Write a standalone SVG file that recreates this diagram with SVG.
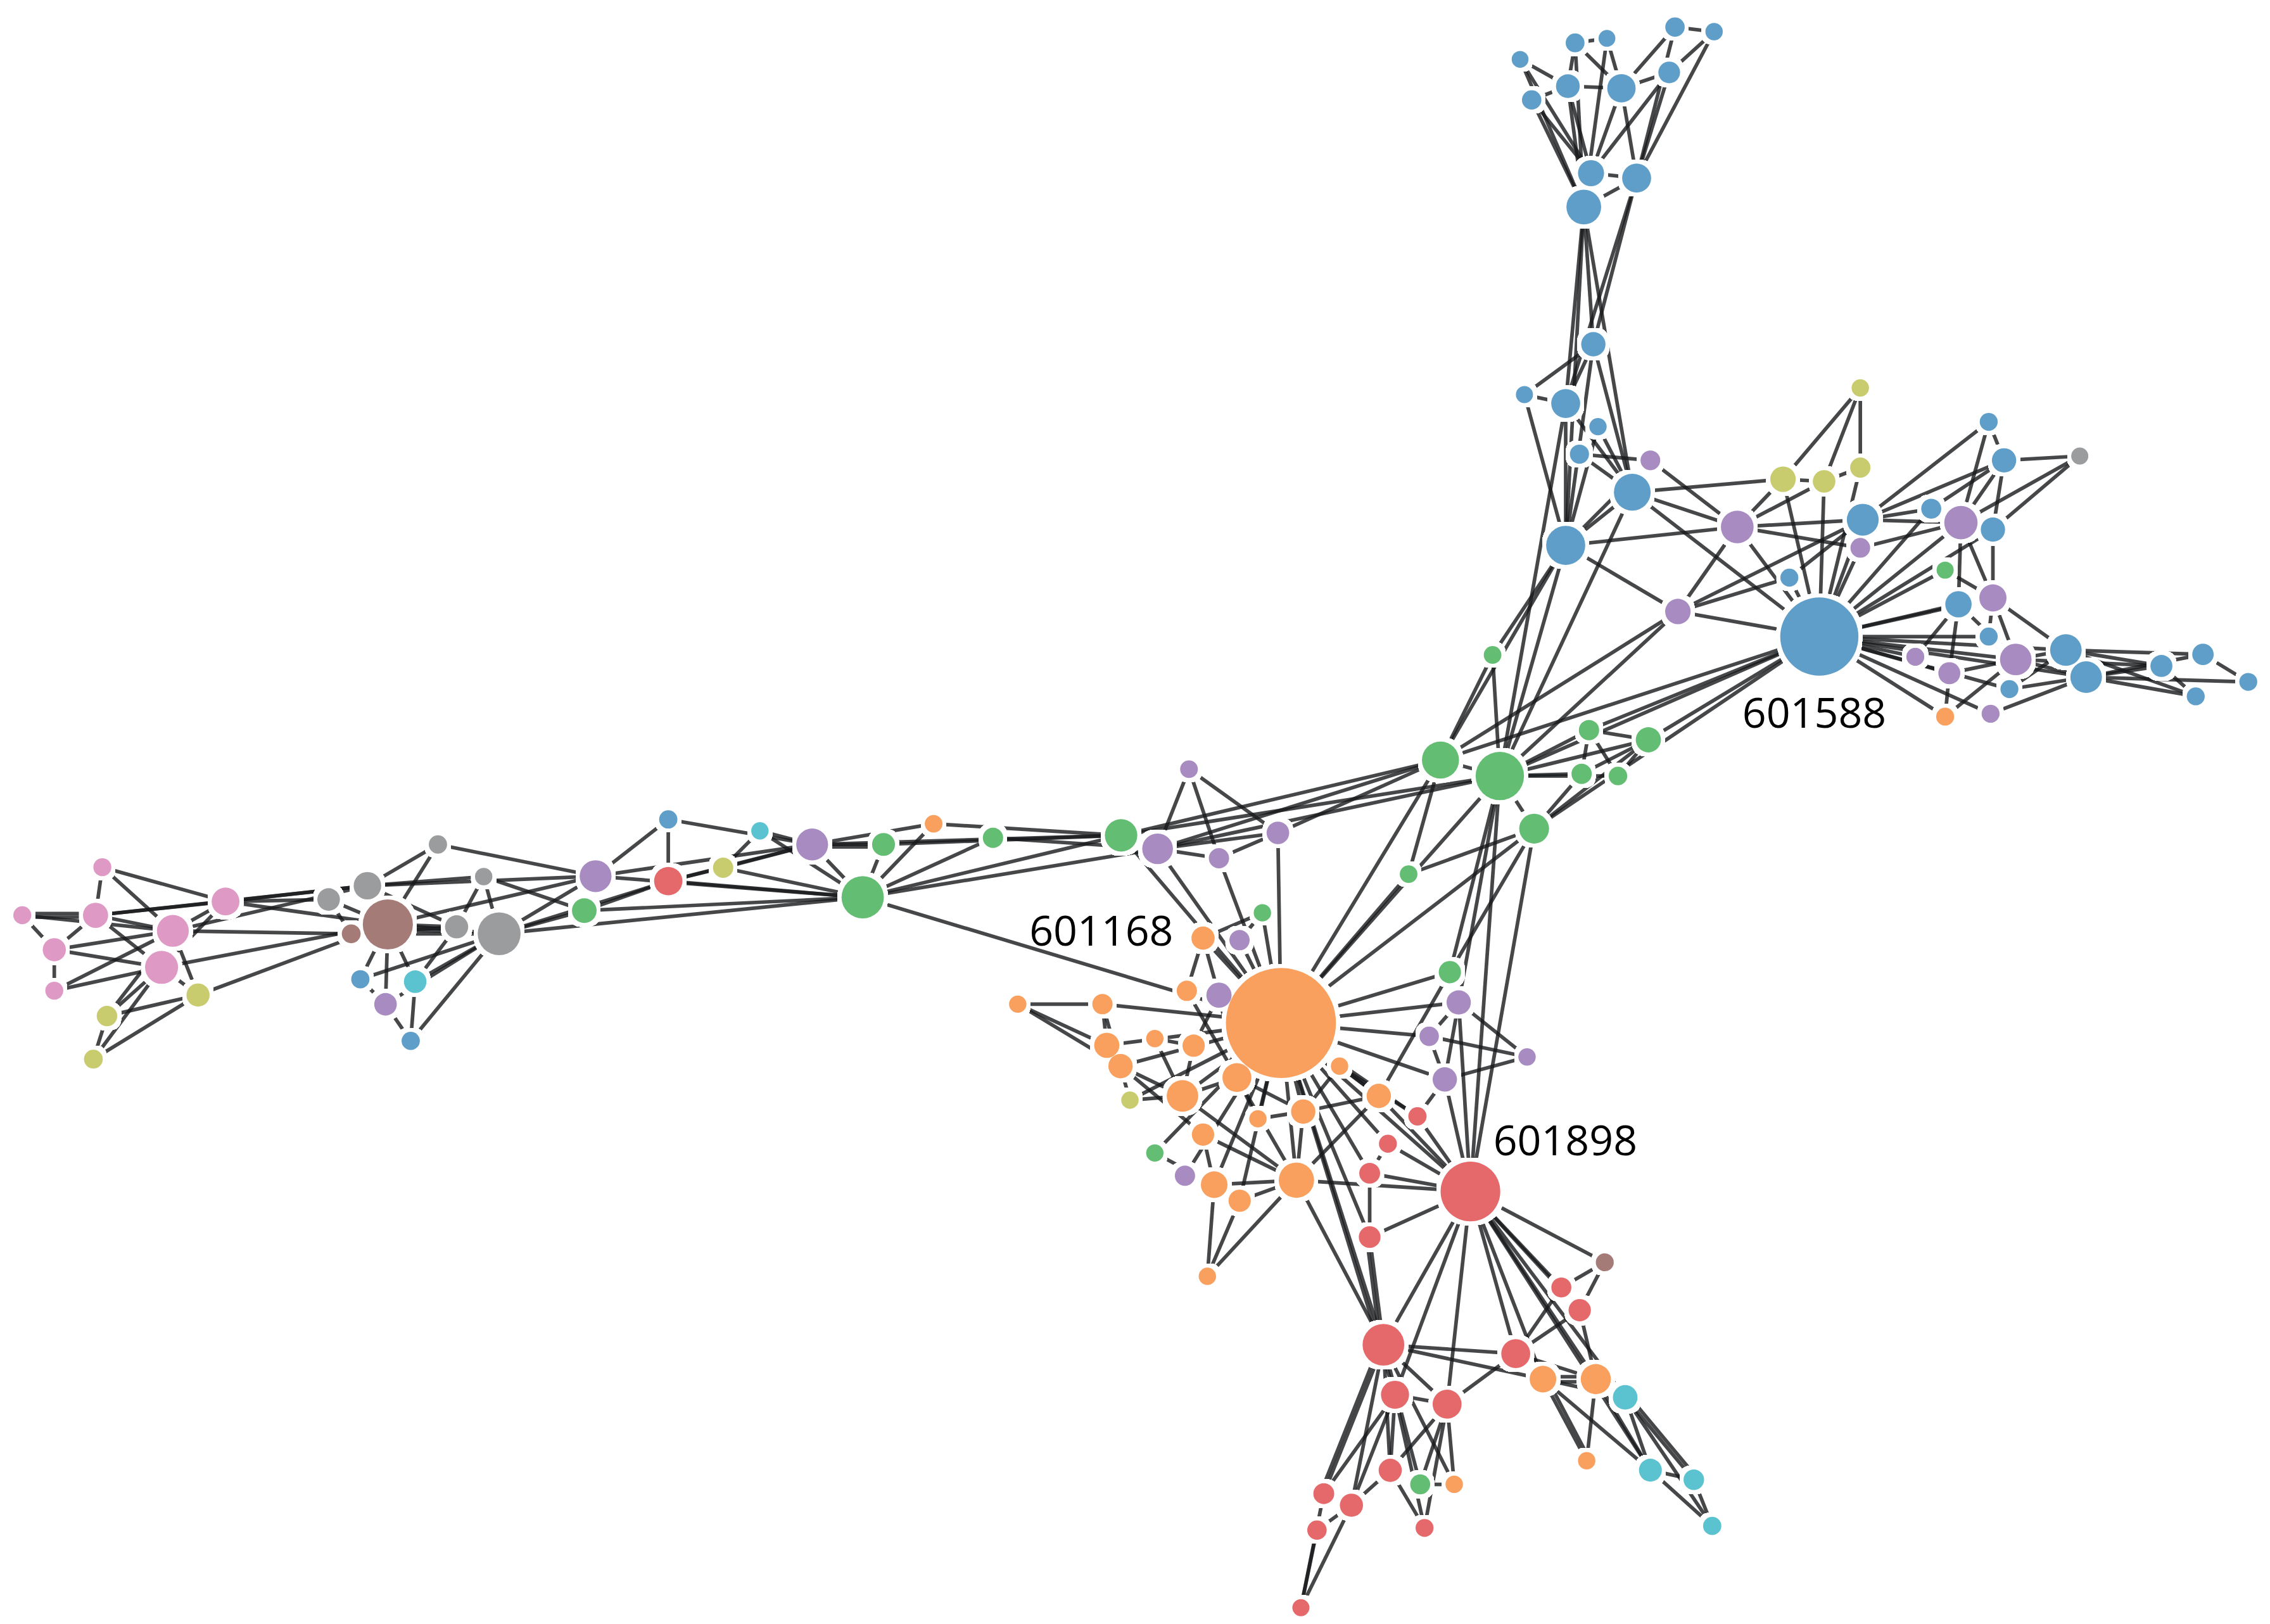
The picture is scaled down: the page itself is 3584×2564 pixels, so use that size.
<svg xmlns="http://www.w3.org/2000/svg" xmlns:xlink="http://www.w3.org/1999/xlink" width="3584" height="2564" viewBox="0 0 3584 2564">
<style>
#edges line{stroke:#16191c;stroke-opacity:.8;stroke-width:2.5}
#nodes circle{fill-opacity:.9}
.b{fill:#4c93c2}.o{fill:#f8964d}.g{fill:#52b663}.r{fill:#e2585a}.p{fill:#9d7eba}.br{fill:#9b6d68}.pk{fill:#da8fbf}.gy{fill:#8f9192}.ol{fill:#c2c75f}.c{fill:#49bdcb}
.lbl{font-family:"Open Sans","Liberation Sans",sans-serif;font-size:29px;fill:#000}
</style>
<defs>
<filter id="halo" x="-5%" y="-5%" width="110%" height="110%">
<feMorphology in="SourceAlpha" operator="dilate" radius="2.5"/>
<feComponentTransfer><feFuncA type="linear" slope="30"/></feComponentTransfer>
<feColorMatrix type="matrix" values="0 0 0 0 1 0 0 0 0 1 0 0 0 0 1 0 0 0 1 0"/>
</filter>
</defs>
<rect width="3584" height="2564" fill="#fff"/>
<g transform="scale(2.285714)">
<g id="edges">
<line x1="1050" y1="41" x2="1083" y2="59.5"/><line x1="1058" y1="69" x2="1083" y2="59.5"/><line x1="1050" y1="41" x2="1094" y2="143"/><line x1="1050" y1="41" x2="1099" y2="119.6"/><line x1="1058" y1="69" x2="1094" y2="143"/><line x1="1058" y1="69" x2="1099" y2="119.6"/><line x1="1088" y1="29.6" x2="1083" y2="59.5"/><line x1="1088" y1="29.6" x2="1110" y2="26.5"/><line x1="1088" y1="29.6" x2="1120" y2="61"/><line x1="1110" y1="26.5" x2="1120" y2="61"/><line x1="1110" y1="26.5" x2="1094" y2="143"/><line x1="1088" y1="29.6" x2="1094" y2="143"/><line x1="1083" y1="59.5" x2="1120" y2="61"/><line x1="1120" y1="61" x2="1153" y2="50"/><line x1="1157" y1="18.7" x2="1184" y2="21.9"/><line x1="1157" y1="18.7" x2="1120" y2="61"/><line x1="1184" y1="21.9" x2="1153" y2="50"/><line x1="1157" y1="18.7" x2="1130.5" y2="123"/><line x1="1184" y1="21.9" x2="1130.5" y2="123"/><line x1="1153" y1="50" x2="1130.5" y2="123"/><line x1="1153" y1="50" x2="1099" y2="119.6"/><line x1="1120" y1="61" x2="1130.5" y2="123"/><line x1="1120" y1="61" x2="1099" y2="119.6"/><line x1="1083" y1="59.5" x2="1094" y2="143"/><line x1="1083" y1="59.5" x2="1099" y2="119.6"/><line x1="1099" y1="119.6" x2="1130.5" y2="123"/><line x1="1130.5" y1="123" x2="1094" y2="143"/>
<line x1="1094" y1="143" x2="1081.5" y2="278.7"/><line x1="1094" y1="143" x2="1081.5" y2="376.7"/><line x1="1094" y1="143" x2="1127.5" y2="340"/><line x1="1094" y1="143" x2="1100.6" y2="237.8"/><line x1="1130.5" y1="123" x2="1100.6" y2="237.8"/><line x1="1130.5" y1="123" x2="1081.5" y2="278.7"/>
<line x1="1053" y1="272.6" x2="1081.5" y2="278.7"/><line x1="1053" y1="272.6" x2="1100.6" y2="237.8"/><line x1="1053" y1="272.6" x2="1081.5" y2="376.7"/><line x1="1081.5" y1="278.7" x2="1100.6" y2="237.8"/><line x1="1081.5" y1="278.7" x2="1081.5" y2="376.7"/><line x1="1081.5" y1="278.7" x2="1127.5" y2="340"/><line x1="1081.5" y1="376.7" x2="1100.6" y2="237.8"/><line x1="1081.5" y1="376.7" x2="1103.8" y2="294.7"/><line x1="1100.6" y1="237.8" x2="1127.5" y2="340"/><line x1="1091" y1="313.7" x2="1140" y2="318"/><line x1="1091" y1="313.7" x2="1127.5" y2="340"/><line x1="1103.8" y1="294.7" x2="1127.5" y2="340"/><line x1="1081.5" y1="376.7" x2="1140" y2="318"/><line x1="1081.5" y1="376.7" x2="1127.5" y2="340"/><line x1="1081.5" y1="376.7" x2="1200" y2="364"/><line x1="1081.5" y1="376.7" x2="1159" y2="422.4"/><line x1="1127.5" y1="340" x2="1231.6" y2="331"/><line x1="1127.5" y1="340" x2="1200" y2="364"/><line x1="1127.5" y1="340" x2="1256.7" y2="439.7"/><line x1="1140" y1="318" x2="1200" y2="364"/><line x1="1200" y1="364" x2="1231.6" y2="331"/><line x1="1200" y1="364" x2="1260" y2="332.5"/><line x1="1200" y1="364" x2="1286.7" y2="359"/><line x1="1200" y1="364" x2="1285" y2="378.4"/><line x1="1200" y1="364" x2="1159" y2="422.4"/><line x1="1200" y1="364" x2="1256.7" y2="439.7"/><line x1="1231.6" y1="331" x2="1260" y2="332.5"/><line x1="1260" y1="332.5" x2="1285" y2="323"/><line x1="1285" y1="268" x2="1231.6" y2="331"/><line x1="1285" y1="268" x2="1260" y2="332.5"/><line x1="1285" y1="268" x2="1285" y2="323"/><line x1="1231.6" y1="331" x2="1256.7" y2="439.7"/><line x1="1260" y1="332.5" x2="1256.7" y2="439.7"/><line x1="1285" y1="323" x2="1256.7" y2="439.7"/><line x1="1286.7" y1="359" x2="1285" y2="378.4"/><line x1="1286.7" y1="359" x2="1159" y2="422.4"/><line x1="1286.7" y1="359" x2="1236" y2="399"/><line x1="1159" y1="422.4" x2="1236" y2="399"/><line x1="1159" y1="422.4" x2="1256.7" y2="439.7"/><line x1="1236" y1="399" x2="1256.7" y2="439.7"/><line x1="1285" y1="378.4" x2="1256.7" y2="439.7"/><line x1="1286.7" y1="359" x2="1256.7" y2="439.7"/>
<line x1="1127.5" y1="340" x2="1036" y2="536"/><line x1="1081.5" y1="376.7" x2="995" y2="525"/><line x1="1081.5" y1="376.7" x2="1036" y2="536"/><line x1="1081.5" y1="278.7" x2="1036" y2="536"/><line x1="1031" y1="452.4" x2="1081.5" y2="376.7"/><line x1="1159" y1="422.4" x2="995" y2="525"/><line x1="1159" y1="422.4" x2="1036" y2="536"/>
<line x1="1256.7" y1="439.7" x2="995" y2="525"/><line x1="1256.7" y1="439.7" x2="1036" y2="536"/><line x1="1256.7" y1="439.7" x2="1097.6" y2="504.3"/><line x1="1256.7" y1="439.7" x2="1138.6" y2="511"/><line x1="1256.7" y1="439.7" x2="1059.7" y2="572.4"/>
<line x1="1373.7" y1="291.4" x2="1384.3" y2="318"/><line x1="1373.7" y1="291.4" x2="1286.7" y2="359"/><line x1="1373.7" y1="291.4" x2="1354.5" y2="361"/><line x1="1384.3" y1="318" x2="1436.6" y2="315"/><line x1="1384.3" y1="318" x2="1286.7" y2="359"/><line x1="1384.3" y1="318" x2="1354.5" y2="361"/><line x1="1384.3" y1="318" x2="1334" y2="351.4"/><line x1="1384.3" y1="318" x2="1376.6" y2="365.8"/><line x1="1436.6" y1="315" x2="1354.5" y2="361"/><line x1="1436.6" y1="315" x2="1376.6" y2="365.8"/><line x1="1286.7" y1="359" x2="1334" y2="351.4"/><line x1="1286.7" y1="359" x2="1354.5" y2="361"/><line x1="1334" y1="351.4" x2="1376.6" y2="365.8"/><line x1="1285" y1="378.4" x2="1354.5" y2="361"/><line x1="1256.7" y1="439.7" x2="1334" y2="351.4"/><line x1="1256.7" y1="439.7" x2="1354.5" y2="361"/><line x1="1256.7" y1="439.7" x2="1376.6" y2="365.8"/><line x1="1256.7" y1="439.7" x2="1343.6" y2="393.8"/><line x1="1354.5" y1="361" x2="1352.8" y2="417.4"/><line x1="1376.6" y1="413" x2="1354.5" y2="361"/><line x1="1376.6" y1="413" x2="1376.6" y2="365.8"/><line x1="1376.6" y1="413" x2="1343.6" y2="393.8"/><line x1="1352.8" y1="417.4" x2="1376.6" y2="413"/><line x1="1352.8" y1="417.4" x2="1323" y2="453.7"/><line x1="1352.8" y1="417.4" x2="1346.5" y2="465"/><line x1="1352.8" y1="417.4" x2="1392.4" y2="455.5"/><line x1="1376.6" y1="413" x2="1373.7" y2="439.7"/><line x1="1376.6" y1="413" x2="1392.4" y2="455.5"/><line x1="1376.6" y1="413" x2="1427" y2="449"/><line x1="1392.4" y1="455.5" x2="1346.5" y2="465"/><line x1="1392.4" y1="455.5" x2="1441" y2="467.7"/><line x1="1392.4" y1="455.5" x2="1427" y2="449"/><line x1="1392.4" y1="455.5" x2="1388" y2="476"/><line x1="1392.4" y1="455.5" x2="1343.6" y2="495"/><line x1="1392.4" y1="455.5" x2="1493" y2="460"/><line x1="1388" y1="476" x2="1427" y2="449"/><line x1="1388" y1="476" x2="1441" y2="467.7"/><line x1="1427" y1="449" x2="1441" y2="467.7"/><line x1="1427" y1="449" x2="1493" y2="460"/><line x1="1427" y1="449" x2="1521.7" y2="452"/><line x1="1427" y1="449" x2="1516.7" y2="481"/><line x1="1441" y1="467.7" x2="1493" y2="460"/><line x1="1441" y1="467.7" x2="1521.7" y2="452"/><line x1="1441" y1="467.7" x2="1516.7" y2="481"/><line x1="1441" y1="467.7" x2="1553" y2="471"/><line x1="1493" y1="460" x2="1516.7" y2="481"/><line x1="1521.7" y1="452" x2="1553" y2="471"/><line x1="1375" y1="493" x2="1441" y2="467.7"/><line x1="1346.5" y1="465" x2="1343.6" y2="495"/>
<line x1="1256.7" y1="439.7" x2="1352.8" y2="417.4"/><line x1="1256.7" y1="439.7" x2="1376.6" y2="413"/><line x1="1256.7" y1="439.7" x2="1373.7" y2="439.7"/><line x1="1256.7" y1="439.7" x2="1323" y2="453.7"/><line x1="1256.7" y1="439.7" x2="1346.5" y2="465"/><line x1="1256.7" y1="439.7" x2="1392.4" y2="455.5"/><line x1="1256.7" y1="439.7" x2="1388" y2="476"/><line x1="1256.7" y1="439.7" x2="1427" y2="449"/><line x1="1256.7" y1="439.7" x2="1441" y2="467.7"/><line x1="1256.7" y1="439.7" x2="1343.6" y2="495"/><line x1="1256.7" y1="439.7" x2="1375" y2="493"/>
<line x1="995" y1="525" x2="1036" y2="536"/><line x1="774.4" y1="577" x2="995" y2="525"/><line x1="774.4" y1="577" x2="1036" y2="536"/><line x1="799.6" y1="586.3" x2="995" y2="525"/><line x1="799.6" y1="586.3" x2="1036" y2="536"/><line x1="882.7" y1="575.3" x2="995" y2="525"/><line x1="1036" y1="536" x2="1097.6" y2="504.3"/><line x1="1036" y1="536" x2="1138.6" y2="511"/><line x1="1036" y1="536" x2="1092.5" y2="534.5"/><line x1="1036" y1="536" x2="1117.6" y2="536"/><line x1="1036" y1="536" x2="1059.7" y2="572.4"/><line x1="1097.6" y1="504.3" x2="1138.6" y2="511"/><line x1="1097.6" y1="504.3" x2="1092.5" y2="534.5"/><line x1="1097.6" y1="504.3" x2="1117.6" y2="536"/><line x1="1138.6" y1="511" x2="1092.5" y2="534.5"/><line x1="1138.6" y1="511" x2="1117.6" y2="536"/><line x1="1138.6" y1="511" x2="1059.7" y2="572.4"/><line x1="1092.5" y1="534.5" x2="1059.7" y2="572.4"/><line x1="1059.7" y1="572.4" x2="973" y2="603.8"/><line x1="973" y1="603.8" x2="995" y2="525"/><line x1="1036" y1="536" x2="1031" y2="452.4"/><line x1="995" y1="525" x2="1031" y2="452.4"/><line x1="1036" y1="536" x2="1001.5" y2="671.5"/><line x1="1036" y1="536" x2="1015.7" y2="823"/><line x1="1036" y1="536" x2="1007.6" y2="692.4"/><line x1="1059.7" y1="572.4" x2="1001.5" y2="671.5"/><line x1="1059.7" y1="572.4" x2="1015.7" y2="823"/><line x1="1001.5" y1="671.5" x2="884.8" y2="706.6"/><line x1="1001.5" y1="671.5" x2="952.4" y2="757"/><line x1="995" y1="525" x2="884.8" y2="706.6"/><line x1="1036" y1="536" x2="884.8" y2="706.6"/><line x1="1059.7" y1="572.4" x2="884.8" y2="706.6"/><line x1="973" y1="603.8" x2="884.8" y2="706.6"/>
<line x1="821.3" y1="531.3" x2="799.6" y2="586.3"/><line x1="821.3" y1="531.3" x2="842" y2="592.8"/><line x1="821.3" y1="531.3" x2="882.7" y2="575.3"/><line x1="799.6" y1="586.3" x2="842" y2="592.8"/><line x1="799.6" y1="586.3" x2="882.7" y2="575.3"/><line x1="842" y1="592.8" x2="882.7" y2="575.3"/><line x1="882.7" y1="575.3" x2="884.8" y2="706.6"/><line x1="842" y1="592.8" x2="884.8" y2="706.6"/><line x1="799.6" y1="586.3" x2="884.8" y2="706.6"/><line x1="774.4" y1="577" x2="884.8" y2="706.6"/><line x1="595.9" y1="619.8" x2="799.6" y2="586.3"/><line x1="685.9" y1="578.7" x2="799.6" y2="586.3"/><line x1="685.9" y1="578.7" x2="595.9" y2="619.8"/><line x1="644.9" y1="569" x2="595.9" y2="619.8"/><line x1="610.3" y1="583.3" x2="595.9" y2="619.8"/><line x1="644.9" y1="569" x2="774.4" y2="577"/><line x1="610.3" y1="583.3" x2="774.4" y2="577"/><line x1="561" y1="583.3" x2="774.4" y2="577"/><line x1="561" y1="583.3" x2="610.3" y2="583.3"/><line x1="561" y1="585" x2="610.3" y2="585"/><line x1="561" y1="583.3" x2="644.9" y2="569"/><line x1="561" y1="583.3" x2="595.9" y2="619.8"/><line x1="595.9" y1="619.8" x2="774.4" y2="577"/><line x1="524.9" y1="573.9" x2="595.9" y2="619.8"/><line x1="524.9" y1="573.9" x2="561" y2="583.3"/><line x1="499.5" y1="599.4" x2="524.9" y2="573.9"/><line x1="499.5" y1="599.4" x2="561" y2="583.3"/><line x1="499.5" y1="599.4" x2="595.9" y2="619.8"/><line x1="461.6" y1="566" x2="561" y2="583.3"/><line x1="461.6" y1="566" x2="461.6" y2="608.6"/><line x1="461.6" y1="566" x2="411.4" y2="605.2"/><line x1="461.6" y1="608.6" x2="561" y2="583.3"/><line x1="461.6" y1="608.6" x2="499.5" y2="599.4"/><line x1="461.6" y1="608.6" x2="595.9" y2="619.8"/><line x1="411.4" y1="605.2" x2="595.9" y2="619.8"/><line x1="411.4" y1="605.2" x2="561" y2="583.3"/><line x1="411.4" y1="605.2" x2="403.6" y2="629"/><line x1="403.6" y1="629" x2="461.6" y2="608.6"/><line x1="403.6" y1="629" x2="595.9" y2="619.8"/><line x1="595.9" y1="619.8" x2="884.8" y2="706.6"/>
<line x1="302.5" y1="583.3" x2="411.4" y2="605.2"/><line x1="253.8" y1="611.8" x2="411.4" y2="605.2"/><line x1="267.9" y1="638.5" x2="411.4" y2="605.2"/><line x1="344.8" y1="645" x2="411.4" y2="605.2"/><line x1="344.8" y1="645" x2="403.6" y2="629"/><line x1="344.8" y1="645" x2="461.6" y2="608.6"/><line x1="344.8" y1="645" x2="595.9" y2="619.8"/><line x1="334.1" y1="605.5" x2="403.6" y2="629"/><line x1="302.5" y1="583.3" x2="253.8" y2="611.8"/><line x1="302.5" y1="583.3" x2="267.9" y2="638.5"/><line x1="253.8" y1="611.8" x2="334.1" y2="605.5"/><line x1="253.8" y1="611.8" x2="267.9" y2="638.5"/><line x1="253.8" y1="611.8" x2="315.4" y2="640.2"/><line x1="227" y1="621.3" x2="267.9" y2="638.5"/><line x1="227" y1="621.3" x2="242.6" y2="645"/><line x1="267.9" y1="638.5" x2="315.4" y2="640.2"/><line x1="267.9" y1="642" x2="315.4" y2="643.5"/><line x1="267.9" y1="638.5" x2="344.8" y2="645"/><line x1="267.9" y1="638.5" x2="248.9" y2="676.4"/><line x1="267.9" y1="638.5" x2="286.8" y2="678.1"/><line x1="267.9" y1="638.5" x2="266.3" y2="693.7"/><line x1="248.9" y1="676.4" x2="266.3" y2="693.7"/><line x1="248.9" y1="676.4" x2="344.8" y2="645"/><line x1="266.3" y1="693.7" x2="283.7" y2="719"/><line x1="286.8" y1="678.1" x2="283.7" y2="719"/><line x1="286.8" y1="678.1" x2="344.8" y2="645"/><line x1="266.3" y1="693.7" x2="344.8" y2="645"/><line x1="283.7" y1="719" x2="344.8" y2="645"/><line x1="286.8" y1="678.1" x2="315.4" y2="640.2"/><line x1="334.1" y1="605.5" x2="315.4" y2="640.2"/><line x1="334.1" y1="605.5" x2="344.8" y2="645"/><line x1="242.6" y1="645" x2="344.8" y2="645"/><line x1="242.6" y1="645" x2="315.4" y2="640.2"/>
<line x1="70.7" y1="599" x2="155.8" y2="622.7"/><line x1="70.7" y1="599" x2="66" y2="632.2"/><line x1="70.7" y1="599" x2="119.4" y2="643"/><line x1="15.4" y1="631" x2="66" y2="631"/><line x1="15.4" y1="633.5" x2="66" y2="633.5"/><line x1="15.4" y1="632.2" x2="119.4" y2="643"/><line x1="15.4" y1="632.2" x2="37.5" y2="656"/><line x1="66" y1="632.2" x2="155.8" y2="622.7"/><line x1="66" y1="632.2" x2="119.4" y2="643"/><line x1="66" y1="632.2" x2="37.5" y2="656"/><line x1="66" y1="632.2" x2="111.6" y2="668.2"/><line x1="37.5" y1="656" x2="119.4" y2="643"/><line x1="37.5" y1="656" x2="111.6" y2="668.2"/><line x1="37.5" y1="656" x2="37.5" y2="684.3"/><line x1="37.5" y1="684.3" x2="119.4" y2="643"/><line x1="37.5" y1="684.3" x2="111.6" y2="668.2"/><line x1="155.8" y1="622.7" x2="119.4" y2="643"/><line x1="155.8" y1="622.7" x2="111.6" y2="668.2"/><line x1="155.8" y1="622.7" x2="253.8" y2="611.8"/><line x1="66" y1="632.2" x2="253.8" y2="611.8"/><line x1="155.8" y1="622.7" x2="227" y2="621.3"/><line x1="155.8" y1="622.7" x2="267.9" y2="638.5"/><line x1="119.4" y1="643" x2="253.8" y2="611.8"/><line x1="119.4" y1="643" x2="242.6" y2="645"/><line x1="111.6" y1="668.2" x2="267.9" y2="638.5"/><line x1="111.6" y1="668.2" x2="136.8" y2="687.3"/><line x1="119.4" y1="643" x2="136.8" y2="687.3"/><line x1="111.6" y1="668.2" x2="73.9" y2="701.8"/><line x1="111.6" y1="668.2" x2="64.5" y2="731.6"/><line x1="119.4" y1="643" x2="73.9" y2="701.8"/><line x1="136.8" y1="687.3" x2="73.9" y2="701.8"/><line x1="136.8" y1="687.3" x2="64.5" y2="731.6"/><line x1="73.9" y1="701.8" x2="64.5" y2="731.6"/><line x1="136.8" y1="687.3" x2="267.9" y2="638.5"/>
<line x1="703" y1="693.6" x2="761.5" y2="693.6"/><line x1="703" y1="693.6" x2="764.5" y2="722"/><line x1="703" y1="693.6" x2="774" y2="736.4"/><line x1="761.5" y1="693.6" x2="884.8" y2="706.6"/><line x1="761.5" y1="693.6" x2="780.5" y2="759.9"/><line x1="761.5" y1="693.6" x2="764.5" y2="722"/><line x1="764.5" y1="722" x2="884.8" y2="706.6"/><line x1="797.7" y1="717.4" x2="824.5" y2="722.3"/><line x1="774" y1="736.4" x2="884.8" y2="706.6"/><line x1="831" y1="648" x2="819.8" y2="684.4"/><line x1="831" y1="648" x2="842" y2="687.4"/><line x1="831" y1="648" x2="884.8" y2="706.6"/><line x1="831" y1="648" x2="872" y2="630.5"/><line x1="856.2" y1="649.4" x2="884.8" y2="706.6"/><line x1="872" y1="630.5" x2="884.8" y2="706.6"/><line x1="856.2" y1="649.4" x2="872" y2="630.5"/><line x1="819.8" y1="684.4" x2="854.4" y2="744.3"/><line x1="842" y1="687.4" x2="824.5" y2="722.3"/><line x1="842" y1="687.4" x2="854.4" y2="744.3"/><line x1="842" y1="687.4" x2="884.8" y2="706.6"/><line x1="797.7" y1="717.4" x2="816.8" y2="757"/><line x1="824.5" y1="722.3" x2="816.8" y2="757"/><line x1="774" y1="736.4" x2="816.8" y2="757"/><line x1="774" y1="736.4" x2="831" y2="783.7"/><line x1="780.5" y1="759.9" x2="884.8" y2="706.6"/><line x1="780.5" y1="759.9" x2="816.8" y2="757"/><line x1="816.8" y1="757" x2="854.4" y2="744.3"/><line x1="816.8" y1="757" x2="884.8" y2="706.6"/><line x1="797.7" y1="796.4" x2="884.8" y2="706.6"/><line x1="818.5" y1="812.1" x2="884.8" y2="706.6"/><line x1="838.7" y1="818.3" x2="884.8" y2="706.6"/><line x1="856.3" y1="829.4" x2="884.8" y2="706.6"/><line x1="838.7" y1="818.3" x2="895.5" y2="815.2"/><line x1="856.3" y1="829.4" x2="895.5" y2="815.2"/><line x1="831" y1="783.7" x2="838.7" y2="818.3"/><line x1="797.7" y1="796.4" x2="838.7" y2="818.3"/><line x1="831" y1="783.7" x2="895.5" y2="815.2"/><line x1="816.8" y1="757" x2="895.5" y2="815.2"/><line x1="854.4" y1="744.3" x2="895.5" y2="815.2"/><line x1="884.8" y1="706.6" x2="895.5" y2="815.2"/><line x1="900.2" y1="767.8" x2="895.5" y2="815.2"/><line x1="868.9" y1="772.8" x2="900.2" y2="767.8"/><line x1="854.4" y1="744.3" x2="900.2" y2="767.8"/><line x1="854.4" y1="744.3" x2="868.9" y2="772.8"/><line x1="884.8" y1="706.6" x2="868.9" y2="772.8"/><line x1="884.8" y1="706.6" x2="900.2" y2="767.8"/><line x1="925.3" y1="736.4" x2="900.2" y2="767.8"/><line x1="925.3" y1="736.4" x2="952.4" y2="757"/><line x1="925.3" y1="736.4" x2="979.1" y2="771.1"/><line x1="838.7" y1="818.3" x2="834" y2="881.6"/><line x1="856.3" y1="829.4" x2="834" y2="881.6"/><line x1="895.5" y1="815.2" x2="834" y2="881.6"/><line x1="895.5" y1="815.2" x2="952.4" y2="757"/><line x1="895.5" y1="815.2" x2="1015.7" y2="823"/><line x1="895.5" y1="815.2" x2="955.6" y2="928.9"/><line x1="884.8" y1="706.6" x2="1007.6" y2="692.4"/><line x1="884.8" y1="706.6" x2="987.2" y2="715.8"/><line x1="884.8" y1="706.6" x2="998" y2="745.6"/><line x1="884.8" y1="706.6" x2="952.4" y2="757"/><line x1="884.8" y1="706.6" x2="979.1" y2="771.1"/><line x1="884.8" y1="706.6" x2="958.7" y2="790"/><line x1="884.8" y1="706.6" x2="946.1" y2="810.4"/><line x1="884.8" y1="706.6" x2="946.1" y2="854.5"/><line x1="884.8" y1="706.6" x2="955.6" y2="928.9"/><line x1="884.8" y1="706.6" x2="963.6" y2="963.4"/><line x1="884.8" y1="706.6" x2="1015.7" y2="823"/><line x1="884.8" y1="706.6" x2="925.3" y2="736.4"/>
<line x1="1007.6" y1="692.4" x2="987.2" y2="715.8"/><line x1="1007.6" y1="692.4" x2="1054.8" y2="730.1"/><line x1="1007.6" y1="692.4" x2="998" y2="745.6"/><line x1="1007.6" y1="692.4" x2="1015.7" y2="823"/><line x1="987.2" y1="715.8" x2="1054.8" y2="730.1"/><line x1="987.2" y1="715.8" x2="998" y2="745.6"/><line x1="1054.8" y1="730.1" x2="998" y2="745.6"/><line x1="998" y1="745.6" x2="979.1" y2="771.1"/><line x1="998" y1="745.6" x2="1015.7" y2="823"/><line x1="952.4" y1="757" x2="1015.7" y2="823"/><line x1="979.1" y1="771.1" x2="1015.7" y2="823"/><line x1="958.7" y1="790" x2="1015.7" y2="823"/><line x1="958.7" y1="790" x2="946.1" y2="810.4"/><line x1="946.1" y1="810.4" x2="1015.7" y2="823"/><line x1="946.1" y1="810.4" x2="946.1" y2="854.5"/><line x1="946.1" y1="854.5" x2="1015.7" y2="823"/><line x1="946.1" y1="854.5" x2="955.6" y2="928.9"/><line x1="944" y1="854.5" x2="953.5" y2="928.9"/><line x1="900.2" y1="767.8" x2="952.4" y2="757"/>
<line x1="1015.7" y1="823" x2="1108.5" y2="871.9"/><line x1="1015.7" y1="823" x2="955.6" y2="928.9"/><line x1="1015.7" y1="823" x2="963.6" y2="963.4"/><line x1="1015.7" y1="823" x2="999.6" y2="969.9"/><line x1="1015.7" y1="823" x2="1047" y2="935"/><line x1="1015.7" y1="823" x2="1065.8" y2="952.6"/><line x1="1015.7" y1="823" x2="1102.3" y2="952.6"/><line x1="1015.7" y1="823" x2="1078.5" y2="889.3"/><line x1="1015.7" y1="823" x2="1091.2" y2="905"/><line x1="1015.7" y1="823" x2="1122.6" y2="965.2"/><line x1="1015.7" y1="823" x2="1140" y2="1015.5"/>
<line x1="1108.5" y1="871.9" x2="1078.5" y2="889.3"/><line x1="1108.5" y1="871.9" x2="1091.2" y2="905"/><line x1="1078.5" y1="889.3" x2="1091.2" y2="905"/><line x1="1047" y1="935" x2="1078.5" y2="889.3"/><line x1="1047" y1="935" x2="1091.2" y2="905"/><line x1="1047" y1="935" x2="1102.3" y2="952.6"/><line x1="1047" y1="935" x2="1065.8" y2="952.6"/><line x1="955.6" y1="928.9" x2="1047" y2="935"/><line x1="955.6" y1="928.9" x2="1065.8" y2="952.6"/><line x1="955.6" y1="928.9" x2="999.6" y2="969.9"/><line x1="955.6" y1="928.9" x2="914.4" y2="1031.7"/><line x1="953" y1="928.9" x2="912" y2="1031.7"/><line x1="955.6" y1="928.9" x2="933.5" y2="1039.7"/><line x1="955.6" y1="928.9" x2="960.3" y2="1015.6"/><line x1="955.6" y1="928.9" x2="981" y2="1025.3"/><line x1="955.6" y1="928.9" x2="1004.5" y2="1025.3"/><line x1="963.6" y1="963.4" x2="999.6" y2="969.9"/><line x1="963.6" y1="963.4" x2="914.4" y2="1031.7"/><line x1="963.6" y1="963.4" x2="933.5" y2="1039.7"/><line x1="963.6" y1="963.4" x2="960.3" y2="1015.6"/><line x1="963.6" y1="963.4" x2="984" y2="1055.4"/><line x1="999.6" y1="969.9" x2="1047" y2="935"/><line x1="999.6" y1="969.9" x2="960.3" y2="1015.6"/><line x1="999.6" y1="969.9" x2="981" y2="1025.3"/><line x1="999.6" y1="969.9" x2="984" y2="1055.4"/><line x1="999.6" y1="969.9" x2="1004.5" y2="1025.3"/><line x1="1091.2" y1="905" x2="1102.3" y2="952.6"/><line x1="1065.8" y1="951" x2="1102.3" y2="951"/><line x1="1065.8" y1="954.5" x2="1102.3" y2="954.5"/><line x1="1065.8" y1="952.6" x2="1122.6" y2="965.2"/><line x1="1065.8" y1="952.6" x2="1096" y2="1009"/><line x1="1068" y1="951" x2="1098" y2="1008"/><line x1="1065.8" y1="952.6" x2="1140" y2="1015.5"/><line x1="1102.3" y1="952.6" x2="1096" y2="1009"/><line x1="1102.3" y1="952.6" x2="1140" y2="1015.5"/><line x1="1102.3" y1="952.6" x2="1122.6" y2="965.2"/><line x1="1122.6" y1="965.2" x2="1140" y2="1015.5"/><line x1="1122.6" y1="965.2" x2="1170" y2="1022.1"/><line x1="1124.5" y1="963.5" x2="1172" y2="1020.5"/><line x1="1122.6" y1="965.2" x2="1182.7" y2="1054"/><line x1="1140" y1="1015.5" x2="1170" y2="1022.1"/><line x1="1140" y1="1015.5" x2="1182.7" y2="1054"/><line x1="1170" y1="1022.1" x2="1182.7" y2="1054"/><line x1="960.3" y1="1015.6" x2="933.5" y2="1039.7"/><line x1="960.3" y1="1015.6" x2="984" y2="1055.4"/><line x1="981" y1="1025.3" x2="1004.5" y2="1025.3"/><line x1="914.4" y1="1031.7" x2="933.5" y2="1039.7"/><line x1="914.4" y1="1031.7" x2="898.6" y2="1110.5"/><line x1="933.5" y1="1039.7" x2="909.7" y2="1056.9"/><line x1="933.5" y1="1039.7" x2="898.6" y2="1110.5"/><line x1="909.7" y1="1056.9" x2="898.6" y2="1110.5"/>
</g>
<use href="#nodes" xlink:href="#nodes" filter="url(#halo)"/>
<g id="nodes">
<g id="t1" class="b"><circle cx="1050" cy="41" r="5.8"/></g>
<g id="t2" class="b"><circle cx="1088" cy="29.6" r="6.5"/></g>
<g id="t3" class="b"><circle cx="1110" cy="26.5" r="5.8"/></g>
<g id="t4" class="b"><circle cx="1157" cy="18.7" r="6.7"/></g>
<g id="t5" class="b"><circle cx="1184" cy="21.9" r="6"/></g>
<g id="t6" class="b"><circle cx="1058" cy="69" r="6.7"/></g>
<g id="t7" class="b"><circle cx="1083" cy="59.5" r="8.2"/></g>
<g id="t8" class="b"><circle cx="1120" cy="61" r="9.8"/></g>
<g id="t9" class="b"><circle cx="1153" cy="50" r="7.5"/></g>
<g id="t10" class="b"><circle cx="1099" cy="119.6" r="9"/></g>
<g id="t11" class="b"><circle cx="1130.5" cy="123" r="10"/></g>
<g id="t12" class="b"><circle cx="1094" cy="143" r="12"/></g>
<g id="m1" class="b"><circle cx="1100.6" cy="237.8" r="8.4"/></g>
<g id="m2" class="b"><circle cx="1053" cy="272.6" r="5.9"/></g>
<g id="m3" class="b"><circle cx="1081.5" cy="278.7" r="10"/></g>
<g id="m4" class="b"><circle cx="1103.8" cy="294.7" r="6"/></g>
<g id="m5" class="b"><circle cx="1091" cy="313.7" r="6.6"/></g>
<g id="m6" class="p"><circle cx="1140" cy="318" r="6.8"/></g>
<g id="m7" class="b"><circle cx="1127.5" cy="340" r="12.7"/></g>
<g id="m8" class="b"><circle cx="1081.5" cy="376.7" r="13.5"/></g>
<g id="m9" class="p"><circle cx="1159" cy="422.4" r="8.8"/></g>
<g id="m10" class="p"><circle cx="1200" cy="364" r="11.3"/></g>
<g id="m11" class="ol"><circle cx="1231.6" cy="331" r="8.8"/></g>
<g id="m12" class="ol"><circle cx="1260" cy="332.5" r="7.8"/></g>
<g id="m13" class="ol"><circle cx="1285" cy="268" r="6"/></g>
<g id="m14" class="ol"><circle cx="1285" cy="323" r="7"/></g>
<g id="m15" class="b"><circle cx="1286.7" cy="359" r="11"/></g>
<g id="m16" class="p"><circle cx="1285" cy="378.4" r="6.8"/></g>
<g id="m17" class="b"><circle cx="1236" cy="399" r="6.2"/></g>
<g id="n601588" class="b"><circle cx="1256.7" cy="439.7" r="27"/></g>
<g id="r1" class="b"><circle cx="1373.7" cy="291.4" r="6.2"/></g>
<g id="r2" class="b"><circle cx="1384.3" cy="318" r="8.4"/></g>
<g id="r3" class="gy"><circle cx="1436.6" cy="315" r="5.9"/></g>
<g id="r4" class="b"><circle cx="1334" cy="351.4" r="6.9"/></g>
<g id="r5" class="p"><circle cx="1354.5" cy="361" r="11.5"/></g>
<g id="r6" class="b"><circle cx="1376.6" cy="365.8" r="8.4"/></g>
<g id="r7" class="g"><circle cx="1343.6" cy="393.8" r="5.9"/></g>
<g id="r8" class="b"><circle cx="1352.8" cy="417.4" r="9.1"/></g>
<g id="r9" class="p"><circle cx="1376.6" cy="413" r="9.4"/></g>
<g id="r10" class="b"><circle cx="1373.7" cy="439.7" r="6.2"/></g>
<g id="r11" class="p"><circle cx="1323" cy="453.7" r="6.2"/></g>
<g id="r12" class="p"><circle cx="1346.5" cy="465" r="7.6"/></g>
<g id="r13" class="p"><circle cx="1392.4" cy="455.5" r="10.9"/></g>
<g id="r14" class="b"><circle cx="1388" cy="476" r="6.2"/></g>
<g id="r15" class="b"><circle cx="1427" cy="449" r="10.9"/></g>
<g id="r16" class="b"><circle cx="1441" cy="467.7" r="10.9"/></g>
<g id="r17" class="b"><circle cx="1493" cy="460" r="7.6"/></g>
<g id="r18" class="b"><circle cx="1521.7" cy="452" r="7.4"/></g>
<g id="r19" class="b"><circle cx="1516.7" cy="481" r="6.2"/></g>
<g id="r20" class="b"><circle cx="1553" cy="471" r="6.2"/></g>
<g id="r21" class="o"><circle cx="1343.6" cy="495" r="6.2"/></g>
<g id="r22" class="p"><circle cx="1375" cy="493" r="6.2"/></g>
<g id="g1" class="g"><circle cx="995" cy="525" r="12.8"/></g>
<g id="g2" class="g"><circle cx="1036" cy="536" r="16.7"/></g>
<g id="g3" class="g"><circle cx="1097.6" cy="504.3" r="7"/></g>
<g id="g4" class="g"><circle cx="1138.6" cy="511" r="8.7"/></g>
<g id="g5" class="g"><circle cx="1092.5" cy="534.5" r="7"/></g>
<g id="g6" class="g"><circle cx="1117.6" cy="536" r="6.4"/></g>
<g id="g7" class="g"><circle cx="1059.7" cy="572.4" r="10.3"/></g>
<g id="g8" class="g"><circle cx="973" cy="603.8" r="6.1"/></g>
<g id="g9" class="g"><circle cx="1031" cy="452.4" r="6.1"/></g>
<g id="g10" class="g"><circle cx="1001.5" cy="671.5" r="7.7"/></g>
<g id="p1" class="p"><circle cx="821.3" cy="531.3" r="6.1"/></g>
<g id="c1" class="g"><circle cx="774.4" cy="577" r="11.2"/></g>
<g id="p2" class="p"><circle cx="799.6" cy="586.3" r="10.6"/></g>
<g id="p3" class="p"><circle cx="842" cy="592.8" r="7"/></g>
<g id="p4" class="p"><circle cx="882.7" cy="575.3" r="7.8"/></g>
<g id="c2" class="g"><circle cx="685.9" cy="578.7" r="7"/></g>
<g id="c3" class="o"><circle cx="644.9" cy="569" r="6.1"/></g>
<g id="c4" class="g"><circle cx="610.3" cy="583.3" r="7.9"/></g>
<g id="c5" class="g"><circle cx="595.9" cy="619.8" r="14.6"/></g>
<g id="c6" class="p"><circle cx="561" cy="583.3" r="11"/></g>
<g id="c7" class="c"><circle cx="524.9" cy="573.9" r="6"/></g>
<g id="c8" class="ol"><circle cx="499.5" cy="599.4" r="7"/></g>
<g id="c9" class="b"><circle cx="461.6" cy="566" r="6.3"/></g>
<g id="c10" class="r"><circle cx="461.6" cy="608.6" r="9.8"/></g>
<g id="c11" class="p"><circle cx="411.4" cy="605.2" r="11"/></g>
<g id="c12" class="g"><circle cx="403.6" cy="629" r="8.5"/></g>
<g id="l1" class="gy"><circle cx="302.5" cy="583.3" r="6.3"/></g>
<g id="l2" class="gy"><circle cx="334.1" cy="605.5" r="6"/></g>
<g id="l3" class="gy"><circle cx="253.8" cy="611.8" r="9.5"/></g>
<g id="l4" class="gy"><circle cx="227" cy="621.3" r="7.8"/></g>
<g id="l5" class="br"><circle cx="267.9" cy="638.5" r="17.3"/></g>
<g id="l6" class="br"><circle cx="242.6" cy="645" r="6.5"/></g>
<g id="l7" class="gy"><circle cx="315.4" cy="640.2" r="8"/></g>
<g id="l8" class="gy"><circle cx="344.8" cy="645" r="14.8"/></g>
<g id="l9" class="b"><circle cx="248.9" cy="676.4" r="6.3"/></g>
<g id="l10" class="c"><circle cx="286.8" cy="678.1" r="7.8"/></g>
<g id="l11" class="p"><circle cx="266.3" cy="693.7" r="7.8"/></g>
<g id="l12" class="b"><circle cx="283.7" cy="719" r="6.3"/></g>
<g id="k1" class="pk"><circle cx="70.7" cy="599" r="6.2"/></g>
<g id="k2" class="pk"><circle cx="15.4" cy="632.2" r="6.2"/></g>
<g id="k3" class="pk"><circle cx="66" cy="632.2" r="8.7"/></g>
<g id="k4" class="pk"><circle cx="155.8" cy="622.7" r="9.6"/></g>
<g id="k5" class="pk"><circle cx="119.4" cy="643" r="11"/></g>
<g id="k6" class="pk"><circle cx="37.5" cy="656" r="8"/></g>
<g id="k7" class="pk"><circle cx="111.6" cy="668.2" r="11.4"/></g>
<g id="k8" class="pk"><circle cx="37.5" cy="684.3" r="6.2"/></g>
<g id="k9" class="ol"><circle cx="136.8" cy="687.3" r="8"/></g>
<g id="k10" class="ol"><circle cx="73.9" cy="701.8" r="7.1"/></g>
<g id="k11" class="ol"><circle cx="64.5" cy="731.6" r="6.5"/></g>
<g id="n601168" class="o"><circle cx="884.8" cy="706.6" r="38"/></g>
<g id="o1" class="o"><circle cx="831" cy="648" r="8"/></g>
<g id="o2" class="p"><circle cx="856.2" cy="649.4" r="7"/></g>
<g id="o3" class="g"><circle cx="872" cy="630.5" r="6"/></g>
<g id="o4" class="o"><circle cx="819.8" cy="684.4" r="7"/></g>
<g id="o5" class="p"><circle cx="842" cy="687.4" r="8.7"/></g>
<g id="o6" class="o"><circle cx="703" cy="693.6" r="6"/></g>
<g id="o7" class="o"><circle cx="761.5" cy="693.6" r="7"/></g>
<g id="o8" class="o"><circle cx="764.5" cy="722" r="8.7"/></g>
<g id="o9" class="o"><circle cx="797.7" cy="717.4" r="6"/></g>
<g id="o10" class="o"><circle cx="824.5" cy="722.3" r="7.7"/></g>
<g id="o11" class="o"><circle cx="774" cy="736.4" r="8.4"/></g>
<g id="o12" class="ol"><circle cx="780.5" cy="759.9" r="6"/></g>
<g id="o13" class="o"><circle cx="816.8" cy="757" r="10.9"/></g>
<g id="o14" class="o"><circle cx="854.4" cy="744.3" r="10"/></g>
<g id="o15" class="o"><circle cx="925.3" cy="736.4" r="6"/></g>
<g id="o16" class="o"><circle cx="868.9" cy="772.8" r="6"/></g>
<g id="o17" class="o"><circle cx="900.2" cy="767.8" r="8.4"/></g>
<g id="o18" class="o"><circle cx="831" cy="783.7" r="7.7"/></g>
<g id="o19" class="g"><circle cx="797.7" cy="796.4" r="6"/></g>
<g id="o20" class="p"><circle cx="818.5" cy="812.1" r="7"/></g>
<g id="o21" class="o"><circle cx="838.7" cy="818.3" r="9.2"/></g>
<g id="o22" class="o"><circle cx="856.3" cy="829.4" r="7.7"/></g>
<g id="o23" class="o"><circle cx="895.5" cy="815.2" r="12.2"/></g>
<g id="o24" class="o"><circle cx="834" cy="881.6" r="6"/></g>
<g id="q1" class="p"><circle cx="1007.6" cy="692.4" r="8.4"/></g>
<g id="q2" class="p"><circle cx="987.2" cy="715.8" r="6.7"/></g>
<g id="q3" class="p"><circle cx="1054.8" cy="730.1" r="6"/></g>
<g id="q4" class="p"><circle cx="998" cy="745.6" r="8.4"/></g>
<g id="q5" class="o"><circle cx="952.4" cy="757" r="8.4"/></g>
<g id="q6" class="r"><circle cx="979.1" cy="771.1" r="6.3"/></g>
<g id="q7" class="r"><circle cx="958.7" cy="790" r="6.2"/></g>
<g id="q8" class="r"><circle cx="946.1" cy="810.4" r="7.2"/></g>
<g id="n601898" class="r"><circle cx="1015.7" cy="823" r="20.6"/></g>
<g id="q9" class="r"><circle cx="946.1" cy="854.5" r="7.5"/></g>
<g id="q10" class="br"><circle cx="1108.5" cy="871.9" r="6.2"/></g>
<g id="s1" class="r"><circle cx="955.6" cy="928.9" r="14.4"/></g>
<g id="s2" class="r"><circle cx="1047" cy="935" r="10"/></g>
<g id="s3" class="r"><circle cx="1078.5" cy="889.3" r="6.9"/></g>
<g id="s4" class="r"><circle cx="1091.2" cy="905" r="7.7"/></g>
<g id="s5" class="r"><circle cx="963.6" cy="963.4" r="9.7"/></g>
<g id="s6" class="r"><circle cx="999.6" cy="969.9" r="10"/></g>
<g id="s7" class="o"><circle cx="1065.8" cy="952.6" r="9.2"/></g>
<g id="s8" class="o"><circle cx="1102.3" cy="952.6" r="10.4"/></g>
<g id="s9" class="o"><circle cx="1096" cy="1009" r="6"/></g>
<g id="s10" class="r"><circle cx="960.3" cy="1015.6" r="8"/></g>
<g id="s11" class="g"><circle cx="981" cy="1025.3" r="6.9"/></g>
<g id="s12" class="o"><circle cx="1004.5" cy="1025.3" r="6"/></g>
<g id="s13" class="r"><circle cx="914.4" cy="1031.7" r="7.2"/></g>
<g id="s14" class="r"><circle cx="933.5" cy="1039.7" r="8"/></g>
<g id="s15" class="r"><circle cx="909.7" cy="1056.9" r="6.7"/></g>
<g id="s16" class="r"><circle cx="984" cy="1055.4" r="6.2"/></g>
<g id="s17" class="r"><circle cx="898.6" cy="1110.5" r="5.9"/></g>
<g id="s18" class="c"><circle cx="1122.6" cy="965.2" r="8.5"/></g>
<g id="s19" class="c"><circle cx="1140" cy="1015.5" r="7.9"/></g>
<g id="s20" class="c"><circle cx="1170" cy="1022.1" r="7.1"/></g>
<g id="s21" class="c"><circle cx="1182.7" cy="1054" r="6.3"/></g>
</g>
<g id="labels">
<text class="lbl" x="1203.5" y="502.5">601588</text>
<text class="lbl" x="711" y="653">601168</text>
<text class="lbl" x="1031.5" y="798">601898</text>
</g>
</g>
</svg>
